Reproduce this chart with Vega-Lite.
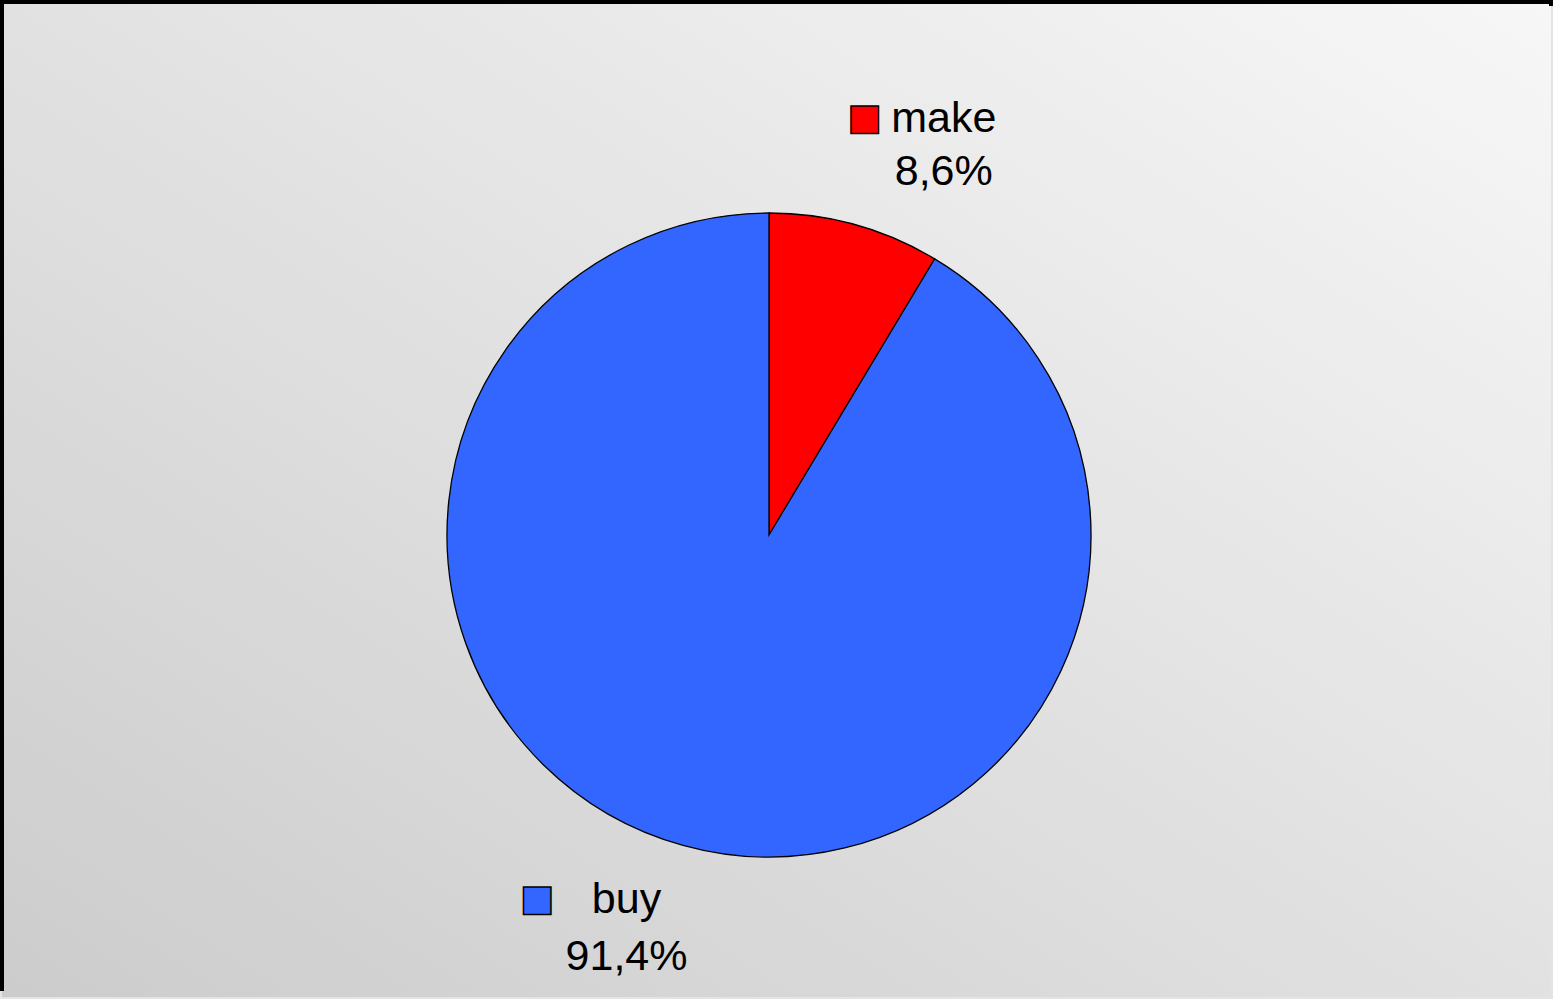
{
  "$schema": "https://vega.github.io/schema/vega-lite/v6.json",
  "width": 1553,
  "height": 999,
  "autosize": {"type": "fit", "contains": "padding"},
  "padding": 0,
  "background": "#e4e4e4",
  "config": {"view": {"stroke": null}},
  "data": {"values": [
    {"category": "make", "share": 8.6, "label": "8,6%"},
    {"category": "buy", "share": 91.4, "label": "91,4%"}
  ]},
  "layer": [
    {
      "data": {"values": [{}]},
      "mark": {
        "type": "rect",
        "stroke": "#000000",
        "strokeWidth": 4,
        "strokeDash": [1553, 2546, 1100, 0],
        "fill": {"gradient": "linear", "x1": 1, "y1": 0, "x2": 0, "y2": 1,
          "stops": [{"offset": 0, "color": "#f7f7f7"}, {"offset": 1, "color": "#cccccc"}]}
      },
      "encoding": {}
    },
    {
      "mark": {"type": "arc", "outerRadius": 322, "stroke": "#000000", "strokeWidth": 1.3, "xOffset": -7.5, "yOffset": 35.5},
      "encoding": {
        "theta": {"field": "share", "type": "quantitative", "stack": true, "scale": {"domain": [0, 100]}},
        "order": {"field": "share", "type": "quantitative", "sort": "ascending"},
        "color": {"field": "category", "type": "nominal", "scale": {"domain": ["make", "buy"], "range": ["#ff0000", "#3366ff"]}, "legend": null}
      }
    },
    {
      "transform": [
        {"stack": "share", "groupby": [], "as": ["s0", "s1"], "sort": [{"field": "share", "order": "ascending"}]},
        {"calculate": "(datum.s0 + datum.s1) / 2", "as": "mid"},
        {"filter": "datum.category === 'make'"}
      ],
      "layer": [
        {
          "mark": {"type": "text", "radius": 400, "align": "center", "baseline": "alphabetic", "font": "Liberation Sans", "fontSize": 43, "lineHeight": 53, "dx": 60.5, "dy": 18, "color": "#000000"},
          "encoding": {
            "theta": {"field": "mid", "type": "quantitative", "stack": null, "scale": {"domain": [0, 100]}},
            "text": {"value": ["make", "8,6%"]}
          }
        },
        {
          "mark": {"type": "text", "radius": 400, "align": "center", "baseline": "middle", "font": "DejaVu Sans", "fontSize": 36, "dx": -18.8, "dy": 3.5, "stroke": "#000000", "strokeWidth": 1.5},
          "encoding": {
            "theta": {"field": "mid", "type": "quantitative", "stack": null, "scale": {"domain": [0, 100]}},
            "text": {"value": "■"},
            "color": {"field": "category", "type": "nominal", "scale": {"domain": ["make", "buy"], "range": ["#ff0000", "#3366ff"]}, "legend": null}
          }
        }
      ]
    },
    {
      "transform": [
        {"stack": "share", "groupby": [], "as": ["s0", "s1"], "sort": [{"field": "share", "order": "ascending"}]},
        {"calculate": "(datum.s0 + datum.s1) / 2", "as": "mid"},
        {"filter": "datum.category === 'buy'"}
      ],
      "layer": [
        {
          "mark": {"type": "text", "radius": 400, "align": "center", "baseline": "alphabetic", "font": "Liberation Sans", "fontSize": 43, "lineHeight": 57, "dx": -43.2, "dy": 28, "color": "#000000"},
          "encoding": {
            "theta": {"field": "mid", "type": "quantitative", "stack": null, "scale": {"domain": [0, 100]}},
            "text": {"value": ["buy", "91,4%"]}
          }
        },
        {
          "mark": {"type": "text", "radius": 400, "align": "center", "baseline": "middle", "font": "DejaVu Sans", "fontSize": 36, "dx": -132.7, "dy": 14.5, "stroke": "#000000", "strokeWidth": 1.5},
          "encoding": {
            "theta": {"field": "mid", "type": "quantitative", "stack": null, "scale": {"domain": [0, 100]}},
            "text": {"value": "■"},
            "color": {"field": "category", "type": "nominal", "scale": {"domain": ["make", "buy"], "range": ["#ff0000", "#3366ff"]}, "legend": null}
          }
        }
      ]
    }
  ]
}
